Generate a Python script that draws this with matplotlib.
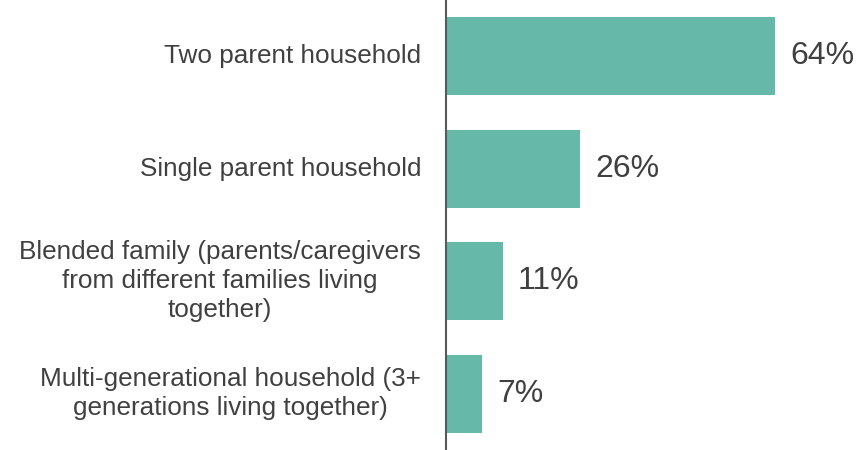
import matplotlib.pyplot as plt

# Data
categories = ['Two parent household',
              'Single parent household',
              'Blended family (parents/caregivers\nfrom different families living\ntogether)',
              'Multi-generational household (3+\ngenerations living together)']
values = [64, 26, 11, 7]
value_labels = ['64%', '26%', '11%', '7%']

plt.rcParams['font.family'] = ['Liberation Sans', 'DejaVu Sans']

fig = plt.figure(figsize=(8.68, 4.5), dpi=100)
ax = fig.add_axes([446 / 868, 0, 422 / 868, 1])

y = list(range(len(values)))
ax.barh(y, values, height=0.69, color='#66b8a8')
ax.set_xlim(0, 82)
ax.set_ylim(3.5, -0.5)

# Value labels
for yi, v, lab in zip(y, values, value_labels):
    ax.text(v + 3, yi, lab, va='center', ha='left', fontsize=23, color='#404040')

# Category labels, right aligned before the axis line
for yi, cat in zip(y, categories):
    ax.annotate(cat, xy=(0, yi), xytext=(-25, 0), textcoords='offset pixels',
                ha='right', va='center', multialignment='center',
                fontsize=18.8, color='#404040', linespacing=1.25)

ax.set_xticks([])
ax.set_yticks([])
for side in ['top', 'right', 'bottom']:
    ax.spines[side].set_visible(False)
ax.spines['left'].set_color('#595959')
ax.spines['left'].set_linewidth(1.5)

fig.savefig('out.png', dpi=100)
